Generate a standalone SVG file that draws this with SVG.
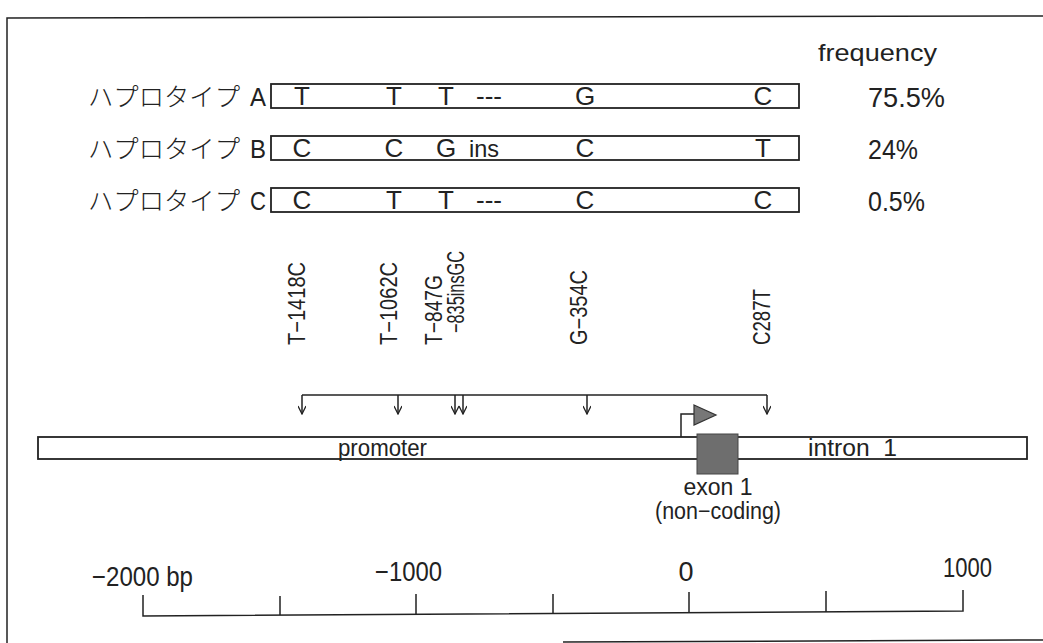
<svg xmlns="http://www.w3.org/2000/svg" width="1043" height="643" viewBox="0 0 1043 643">
<defs>
<style>
.t{font-family:"Liberation Sans",Arial,sans-serif;fill:#222;}
.jp{font-family:"Noto Sans CJK JP",sans-serif;fill:#222;font-weight:300;}
.ln{stroke:#222;stroke-width:1.5;fill:none;}
.box{stroke:#222;stroke-width:1.8;fill:#fff;}
</style>
<marker id="ah" markerWidth="10" markerHeight="8" refX="9" refY="4" orient="auto" markerUnits="userSpaceOnUse" viewBox="0 0 10 8">
<path d="M1,0 L9,4 L1,8" fill="none" stroke="#222" stroke-width="1.3"/>
</marker>
</defs>
<rect width="1043" height="643" fill="#fff"/>
<g id="frame">
<path class="ln" d="M7,643 V18 L1043,16"/>
<path class="ln" d="M563,642 L1043,640"/>
</g>
<g id="header"><text class="t" x="818" y="61" font-size="24" textLength="119" lengthAdjust="spacingAndGlyphs">frequency</text></g>
<g id="haploA">
<text class="jp" x="88" y="106" font-size="25" textLength="152" lengthAdjust="spacingAndGlyphs">ハプロタイプ</text>
<text class="t" x="250" y="106" font-size="25" textLength="16" lengthAdjust="spacingAndGlyphs">A</text>
<rect class="box" x="271" y="84" width="528" height="24"/>
<g class="t" font-size="26" text-anchor="middle">
<text x="302" y="105">T</text><text x="394" y="105">T</text><text x="446" y="105">T</text><text x="489" y="105">---</text><text x="585" y="105">G</text><text x="763" y="105">C</text>
</g>
<text class="t" x="868" y="107" font-size="27" textLength="77" lengthAdjust="spacingAndGlyphs">75.5%</text>
</g>
<g id="haploB">
<text class="jp" x="88" y="158" font-size="25" textLength="152" lengthAdjust="spacingAndGlyphs">ハプロタイプ</text>
<text class="t" x="250" y="158" font-size="25" textLength="16" lengthAdjust="spacingAndGlyphs">B</text>
<rect class="box" x="271" y="136" width="528" height="24"/>
<g class="t" font-size="26" text-anchor="middle">
<text x="302" y="157">C</text><text x="394" y="157">C</text><text x="446" y="157">G</text><text x="484" y="157" font-size="24" textLength="30" lengthAdjust="spacingAndGlyphs">ins</text><text x="585" y="157">C</text><text x="763" y="157">T</text>
</g>
<text class="t" x="868" y="159" font-size="27" textLength="50" lengthAdjust="spacingAndGlyphs">24%</text>
</g>
<g id="haploC">
<text class="jp" x="88" y="210" font-size="25" textLength="152" lengthAdjust="spacingAndGlyphs">ハプロタイプ</text>
<text class="t" x="250" y="210" font-size="25" textLength="16" lengthAdjust="spacingAndGlyphs">C</text>
<rect class="box" x="271" y="188" width="528" height="24"/>
<g class="t" font-size="26" text-anchor="middle">
<text x="302" y="209">C</text><text x="394" y="209">T</text><text x="446" y="209">T</text><text x="489" y="209">---</text><text x="585" y="209">C</text><text x="763" y="209">C</text>
</g>
<text class="t" x="868" y="211" font-size="27" textLength="57" lengthAdjust="spacingAndGlyphs">0.5%</text>
</g>
<g id="snp-labels" class="t" font-size="24">
<text transform="translate(305,345) rotate(-90)" textLength="83" lengthAdjust="spacingAndGlyphs">T−1418C</text>
<text transform="translate(397,345) rotate(-90)" textLength="83" lengthAdjust="spacingAndGlyphs">T−1062C</text>
<text transform="translate(442,345) rotate(-90)" textLength="70" lengthAdjust="spacingAndGlyphs">T−847G</text>
<text transform="translate(464,333) rotate(-90)" textLength="82" lengthAdjust="spacingAndGlyphs">−835insGC</text>
<text transform="translate(587,345) rotate(-90)" textLength="75" lengthAdjust="spacingAndGlyphs">G−354C</text>
<text transform="translate(770,345) rotate(-90)" textLength="56" lengthAdjust="spacingAndGlyphs">C287T</text>
</g>
<g id="connectors">
<path class="ln" d="M302,395 H767"/>
<path class="ln" d="M302,395 V414" marker-end="url(#ah)"/>
<path class="ln" d="M398,395 V414" marker-end="url(#ah)"/>
<path class="ln" d="M455,395 V414" marker-end="url(#ah)"/>
<path class="ln" d="M463,395 V414" marker-end="url(#ah)"/>
<path class="ln" d="M587,395 V414" marker-end="url(#ah)"/>
<path class="ln" d="M767,395 V414" marker-end="url(#ah)"/>
<path class="ln" d="M681,437 V414 H694"/>
<polygon points="694,405 716,415 694,425" fill="#777" stroke="#333" stroke-width="1.2"/>
</g>
<g id="gene">
<rect class="box" x="38" y="437" width="989" height="22"/>
<text class="t" x="338" y="456" font-size="23" textLength="89" lengthAdjust="spacingAndGlyphs">promoter</text>
<rect x="697" y="434" width="41" height="40" fill="#6e6e6e" stroke="#444" stroke-width="1"/>
<text class="t" x="808" y="456" font-size="23" textLength="89" lengthAdjust="spacingAndGlyphs" xml:space="preserve">intron  1</text>
<text class="t" x="718" y="495" font-size="23" text-anchor="middle">exon 1</text>
<text class="t" x="655" y="519" font-size="23" textLength="126" lengthAdjust="spacingAndGlyphs">(non−coding)</text>
</g>
<g id="scale">
<path class="ln" d="M143,595 V616 L963,611 V590"/>
<path class="ln" d="M280,596 V615 M416,594 V614 M553,594 V613 M689,592 V612 M826,591 V612"/>
<g class="t" font-size="27">
<text x="92" y="586" textLength="101" lengthAdjust="spacingAndGlyphs">−2000 bp</text>
<text x="375" y="581" textLength="67" lengthAdjust="spacingAndGlyphs">−1000</text>
<text x="686" y="581" text-anchor="middle">0</text>
<text x="943" y="577" textLength="49" lengthAdjust="spacingAndGlyphs">1000</text>
</g>
</g>
</svg>
